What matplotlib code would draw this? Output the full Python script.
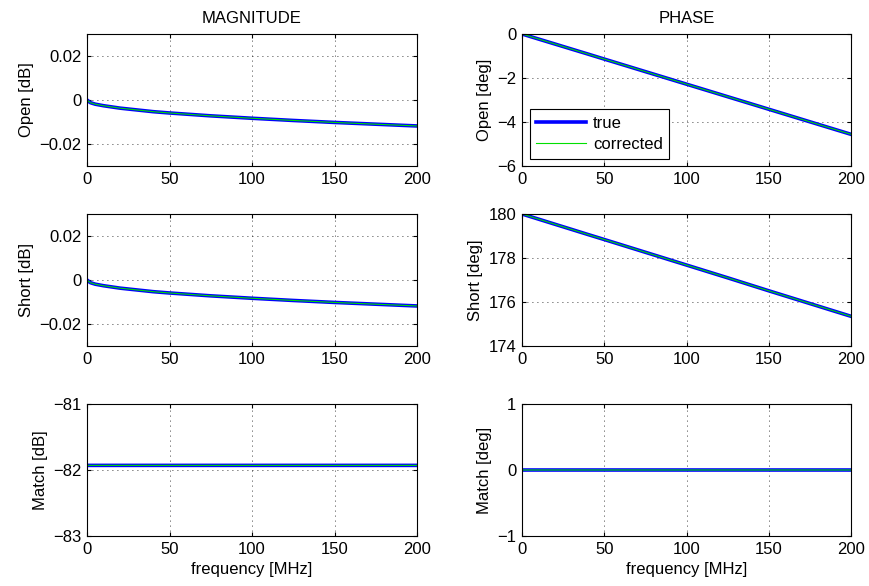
import matplotlib
matplotlib.use("Agg")
import matplotlib.pyplot as plt

plt.rcParams["font.family"] = ["Liberation Sans", "DejaVu Sans"]
plt.rcParams["font.size"] = 12
plt.rcParams["axes.unicode_minus"] = True

# frequency points [MHz]
freq = [0, 2, 5, 10, 20, 30, 40, 50, 75, 100, 125, 150, 175, 200]

# magnitudes [dB]
open_mag = [0.0, -0.0012, -0.0019, -0.0026, -0.0037, -0.0045, -0.0053, -0.0059,
            -0.0072, -0.0083, -0.0093, -0.0102, -0.0110, -0.0118]
short_mag = [0.0, -0.0012, -0.0019, -0.0026, -0.0037, -0.0045, -0.0053, -0.0059,
             -0.0072, -0.0083, -0.0093, -0.0102, -0.0110, -0.0118]
match_mag = [-81.93] * len(freq)

# phases [deg]
open_ph = [0.0, -0.045, -0.114, -0.228, -0.455, -0.683, -0.91, -1.14,
           -1.71, -2.28, -2.85, -3.42, -3.99, -4.56]
short_ph = [180.0, 179.953, 179.884, 179.768, 179.535, 179.303, 179.07, 178.84,
            178.26, 177.68, 177.10, 176.51, 175.93, 175.35]
match_ph = [0.0] * len(freq)

rows = [
    ("Open [dB]", open_mag, (-0.03, 0.03), [-0.02, 0, 0.02], ["\u22120.02", "0", "0.02"],
     "Open [deg]", open_ph, (-6, 0), [-6, -4, -2, 0], ["\u22126", "\u22124", "\u22122", "0"]),
    ("Short [dB]", short_mag, (-0.03, 0.03), [-0.02, 0, 0.02], ["\u22120.02", "0", "0.02"],
     "Short [deg]", short_ph, (174, 180), [174, 176, 178, 180], ["174", "176", "178", "180"]),
    ("Match [dB]", match_mag, (-83, -81), [-83, -82, -81], ["\u221283", "\u221282", "\u221281"],
     "Match [deg]", match_ph, (-1, 1), [-1, 0, 1], ["\u22121", "0", "1"]),
]

fig = plt.figure(figsize=(8.69, 5.86), dpi=100)
W, H = 869, 586
lefts = [87, 522]
widths = [330, 329]
tops = [34, 214, 404]
height = 132

def style(ax):
    ax.set_xlim(0, 200)
    ax.set_xticks([0, 50, 100, 150, 200])
    ax.grid(True, linestyle=(0, (1, 5)), color="black", linewidth=0.6)
    ax.tick_params(direction="in", length=3, top=True, right=True, labelsize=12, pad=4)
    for s in ax.spines.values():
        s.set_linewidth(0.8)

for i, (ylab1, y1, lim1, t1, tl1, ylab2, y2, lim2, t2, tl2) in enumerate(rows):
    for j, (ylab, y, lim, t, tl) in enumerate([(ylab1, y1, lim1, t1, tl1), (ylab2, y2, lim2, t2, tl2)]):
        ax = fig.add_axes([lefts[j] / W, 1 - (tops[i] + height) / H, widths[j] / W, height / H])
        ax.plot(freq, y, color="#0000ff", linewidth=2.6, label="true", snap=False)
        ax.plot(freq, y, color="#00e000", linewidth=0.8, label="corrected", snap=False)
        ax.set_ylim(*lim)
        ax.set_yticks(t)
        ax.set_yticklabels(tl)
        ax.set_ylabel(ylab, fontsize=12)
        style(ax)
        if i == 0:
            ax.set_title("MAGNITUDE" if j == 0 else "PHASE", fontsize=12, pad=8)
            if j == 1:
                leg = ax.legend(loc="lower left", fancybox=False, edgecolor="black",
                                framealpha=1, fontsize=12, handlelength=3.0,
                                borderpad=0.4, labelspacing=0.35, handletextpad=0.4,
                                borderaxespad=0.45)
                leg.get_frame().set_linewidth(0.8)
        if i == 2:
            ax.set_xlabel("frequency [MHz]", fontsize=12)

fig.savefig("out.png", dpi=100)
